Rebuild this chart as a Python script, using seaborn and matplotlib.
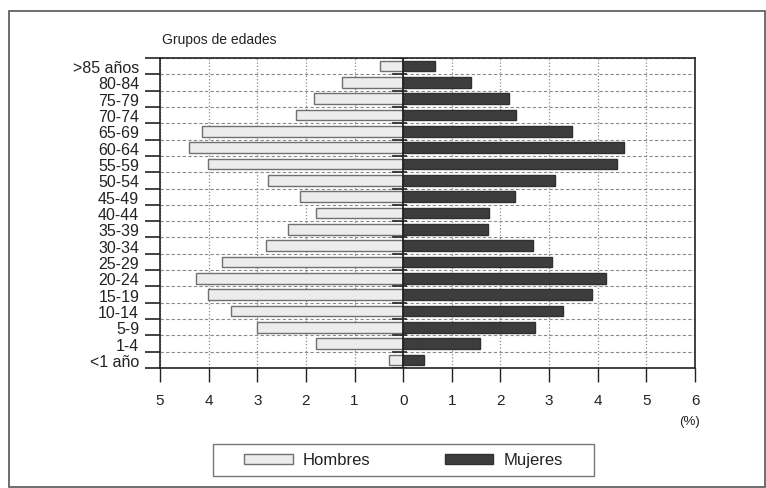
import numpy as np
import pandas as pd
import matplotlib
matplotlib.use('Agg')
import matplotlib.pyplot as plt
import seaborn as sns
from matplotlib.patches import Rectangle, Patch

# age groups, top to bottom
grupos = ['>85 años', '80-84', '75-79', '70-74', '65-69', '60-64', '55-59', '50-54',
          '45-49', '40-44', '35-39', '30-34', '25-29', '20-24', '15-19', '10-14',
          '5-9', '1-4', '<1 año']
# percentages
hombres = [0.48, 1.25, 1.83, 2.20, 4.14, 4.40, 4.01, 2.78, 2.13, 1.80,
           2.36, 2.83, 3.73, 4.25, 4.01, 3.55, 3.00, 1.80, 0.29]
mujeres = [0.66, 1.40, 2.17, 2.32, 3.48, 4.55, 4.39, 3.12, 2.29, 1.77,
           1.75, 2.67, 3.05, 4.16, 3.89, 3.28, 2.70, 1.57, 0.43]
xticks = [-5, -4, -3, -2, -1, 0, 1, 2, 3, 4, 5, 6]
xlabels = ['5', '4', '3', '2', '1', '0', '1', '2', '3', '4', '5', '6']

col_h = '#ececec'
edge_h = '#707070'
col_m = '#3d3d3d'
edge_m = '#303030'

sns.set_style('white')
plt.rcParams['font.family'] = ['Liberation Sans', 'DejaVu Sans']

df = pd.DataFrame({'grupo': grupos, 'Hombres': -np.array(hombres), 'Mujeres': mujeres})

fig = plt.figure(figsize=(7.66, 4.89), dpi=100)
ax = fig.add_axes([160/766, 1-369/489, 535/766, 310/489])

sns.barplot(data=df, x='Hombres', y='grupo', orient='h', color=col_h, edgecolor=edge_h,
            linewidth=1, width=0.65, saturation=1, ax=ax)
sns.barplot(data=df, x='Mujeres', y='grupo', orient='h', color=col_m, edgecolor=edge_m,
            linewidth=1, width=0.65, saturation=1, ax=ax)

n = len(grupos)
ax.set_xlim(-5, 6)
ax.set_ylim(n - 0.5, -0.5)
ax.set_xlabel('')
ax.set_ylabel('')

# labels centred on groups, tick marks on group boundaries
bounds = np.arange(n + 1) - 0.5
ax.set_yticks(bounds, minor=True)
ax.tick_params(axis='y', which='major', left=True, length=0, pad=15, labelsize=11.5,
               labelcolor='#222')
ax.tick_params(axis='y', which='minor', left=True, length=11, width=1.2, direction='out',
               color='#222')
ax.set_xticks(xticks)
ax.set_xticklabels(xlabels)
ax.tick_params(axis='x', which='major', bottom=True, length=10, width=1, direction='out', pad=8,
               labelsize=11, color='#222', labelcolor='#222')

ax.set_axisbelow(True)
ax.grid(axis='y', which='minor', linestyle=(0, (3, 2)), color='#8a8a8a', lw=0.8)
ax.grid(axis='x', which='major', linestyle=':', color='#8a8a8a', lw=0.9)
ax.grid(axis='y', which='major', visible=False)

for s in ax.spines.values():
    s.set_color('#222')
    s.set_linewidth(1.2)

ax.axvline(0, color='#222', lw=1.3)
ax.hlines(bounds, -0.22, 0.08, color='#222', lw=1.2)

fig.text(162/766, 1-40/489, 'Grupos de edades', ha='left', va='center', fontsize=10, color='#222')
fig.text(689/766, 1-422/489, '(%)', ha='center', va='center', fontsize=9.5, color='#222')

handles = [Patch(facecolor=col_h, edgecolor=edge_h), Patch(facecolor=col_m, edgecolor=edge_m)]
fig.legend(handles, ['Hombres', 'Mujeres'], loc='center', bbox_to_anchor=(403.5/766, 1-461/489),
           ncol=2, frameon=False, fontsize=12, handlelength=2.9, handleheight=0.55,
           handletextpad=0.6, columnspacing=4.5, labelcolor='#222')
fig.add_artist(Rectangle((213/766, 1-477/489), 381/766, 32/489, transform=fig.transFigure,
                         fill=False, edgecolor='#777', lw=1))
# outer frame
fig.add_artist(Rectangle((9/766, 1-488/489), 756/766, 476/489, transform=fig.transFigure,
                         fill=False, edgecolor='#555', lw=1.2))

plt.savefig('out.png', dpi=100)
